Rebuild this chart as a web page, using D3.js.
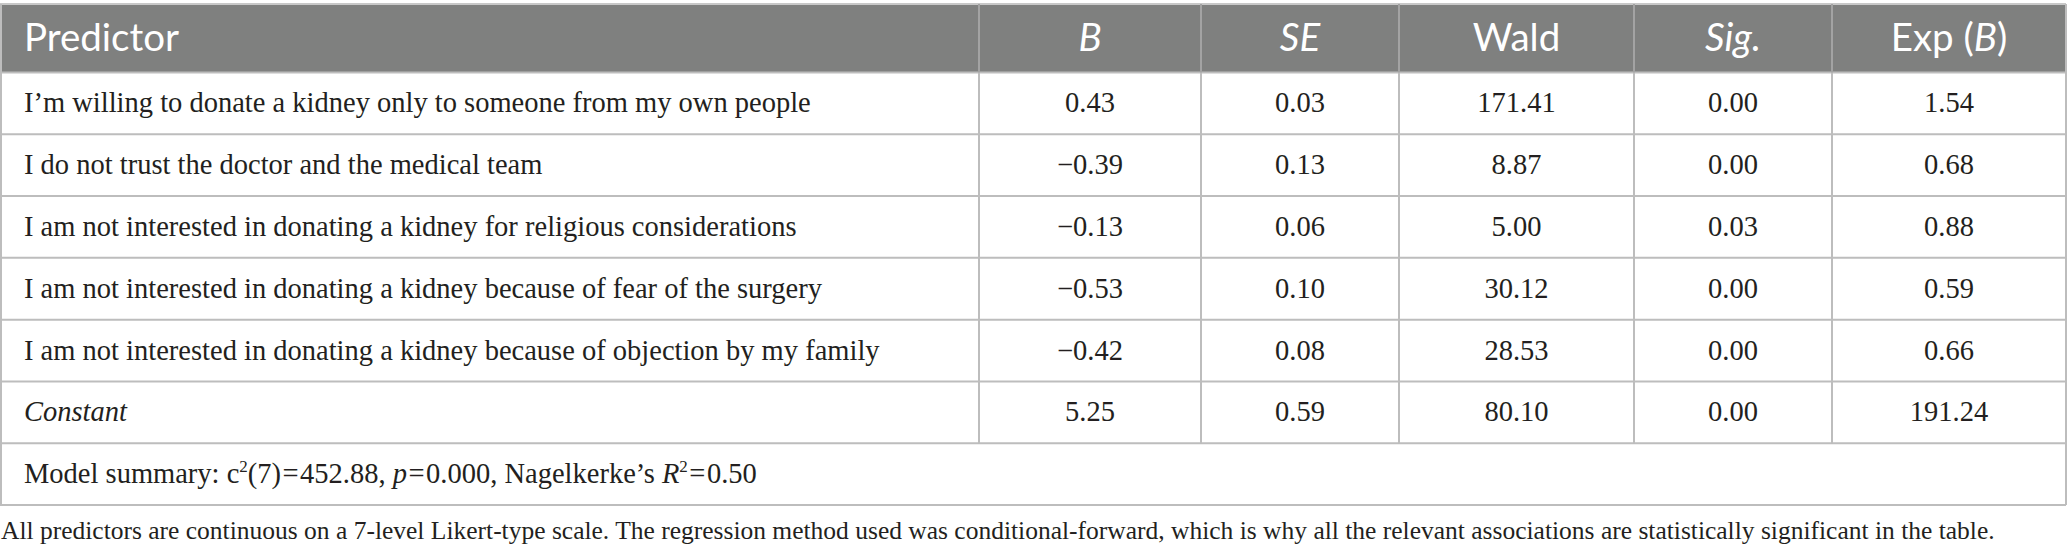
<!DOCTYPE html>
<html><head><meta charset="utf-8">
<script src="https://cdn.jsdelivr.net/npm/d3@7"></script>
<style>html,body{margin:0;padding:0;background:#fff;}</style>
</head><body>
<svg id="c" width="2067" height="557"></svg>
<script>
// ---- data ----
const headers = ["Predictor", "B", "SE", "Wald", "Sig.", "Exp (B)"];
const predictors = [
  "I\u2019m willing to donate a kidney only to someone from my own people",
  "I do not trust the doctor and the medical team",
  "I am not interested in donating a kidney for religious considerations",
  "I am not interested in donating a kidney because of fear of the surgery",
  "I am not interested in donating a kidney because of objection by my family",
  "Constant"
];
const B    = ["0.43", "\u22120.39", "\u22120.13", "\u22120.53", "\u22120.42", "5.25"];
const SE   = ["0.03", "0.13", "0.06", "0.10", "0.08", "0.59"];
const Wald = ["171.41", "8.87", "5.00", "30.12", "28.53", "80.10"];
const Sig  = ["0.00", "0.00", "0.03", "0.00", "0.00", "0.00"];
const ExpB = ["1.54", "0.68", "0.88", "0.59", "0.66", "191.24"];
const footnote = "All predictors are continuous on a 7-level Likert-type scale. The regression method used was conditional-forward, which is why all the relevant associations are statistically significant in the table.";

// ---- layout ----
const colEdges = [0, 979, 1201, 1399, 1634, 1832, 2066];
const rowKeys = ["header"].concat(predictors.map((d,i)=>"r"+i)).concat(["summary"]);
const yTop = 4, yBottom = 505;
const serif = "'Liberation Serif', 'Times New Roman', serif";
const sans = "Lato, 'Noto Sans', sans-serif";
const gridCol = "#bdbdbd";

const svg = d3.select("#c");
const rowH = (yBottom - 72.5) / 7;
const y = d3.scaleOrdinal()
  .domain(rowKeys)
  .range([yTop].concat(d3.range(7).map(i => 72.5 + i * rowH)));
const h = k => k === "header" ? 72.5 - yTop : rowH;
const x = d3.scaleOrdinal().domain(d3.range(6)).range(colEdges.slice(0, 6));
const w = i => colEdges[i + 1] - colEdges[i];

// header background
svg.append("rect").attr("x", 0).attr("y", y("header")).attr("width", colEdges[6]).attr("height", h("header")).attr("fill", "#7f807f");

const cols = [predictors, B, SE, Wald, Sig, ExpB];
const bodyRows = predictors.map((p, i) => ({key: "r" + i, cells: cols.map(c => c[i])}));

// horizontal grid lines
svg.selectAll("line.h").data(rowKeys).enter().append("line")
  .attr("x1", 0).attr("x2", colEdges[6])
  .attr("y1", d => y(d) + h(d)).attr("y2", d => y(d) + h(d))
  .attr("stroke", gridCol).attr("stroke-width", 2);
svg.append("line").attr("x1",0).attr("x2",colEdges[6]).attr("y1",yTop).attr("y2",yTop).attr("stroke","#c8c8c8").attr("stroke-width",2);
[1, colEdges[6]].forEach(xx => svg.append("line").attr("x1", xx).attr("x2", xx).attr("y1", yTop).attr("y2", yBottom).attr("stroke", gridCol).attr("stroke-width", 2));
svg.selectAll("line.v").data(colEdges.slice(1, 6)).enter().append("line")
  .attr("x1", d => d).attr("x2", d => d)
  .attr("y1", yTop).attr("y2", y("summary"))
  .attr("stroke", gridCol).attr("stroke-width", 2);
svg.selectAll("line.vh").data(colEdges.slice(1, 6)).enter().append("line")
  .attr("x1", d => d).attr("x2", d => d)
  .attr("y1", yTop).attr("y2", 72.5)
  .attr("stroke", "#a3a3a3").attr("stroke-width", 2);

// header text
const hdr = svg.append("g");
headers.forEach((t, i) => {
  const tx = hdr.append("text")
    .attr("x", i === 0 ? 24 : x(i) + w(i) / 2)
    .attr("y", y("header") + h("header") / 2 + 13)
    .attr("text-anchor", i === 0 ? "start" : "middle")
    .attr("fill", "#fff").attr("font-family", sans).attr("font-size", 38.5);
  if (t === "Exp (B)") {
    tx.append("tspan").text("Exp (");
    tx.append("tspan").attr("font-style", "italic").text("B");
    tx.append("tspan").text(")");
  } else {
    tx.text(t).attr("font-style", i === 0 || t === "Wald" ? "normal" : "italic");
  }
});

// body text
bodyRows.forEach(r => {
  const cy = y(r.key) + rowH / 2 + 9;
  r.cells.forEach((c, i) => {
    svg.append("text")
      .attr("x", i === 0 ? 24 : x(i) + w(i) / 2)
      .attr("y", cy)
      .attr("text-anchor", i === 0 ? "start" : "middle")
      .attr("font-family", serif).attr("font-size", 28.5).attr("fill", "#231f20")
      .attr("font-style", c === "Constant" ? "italic" : "normal")
      .text(c);
  });
});

// model summary
const baseY = y("summary") + rowH / 2 + 9;
const ms = svg.append("text").attr("x", 24).attr("y", baseY)
  .attr("font-family", serif).attr("font-size", 28.5).attr("fill", "#231f20");
const sup = () => ms.append("tspan").attr("font-size", 17).attr("y", baseY - 11).text("2");
const eq = (after) => {
  ms.append("tspan").attr("dx", 1.5).attr("y", baseY).text("=");
  ms.append("tspan").attr("dx", 1.5).attr("y", baseY).text(after);
};
ms.append("tspan").text("Model summary: c");
sup();
ms.append("tspan").attr("y", baseY).text("(7)");
eq("452.88, ");
ms.append("tspan").attr("font-style", "italic").text("p");
eq("0.000, Nagelkerke\u2019s ");
ms.append("tspan").attr("font-style", "italic").text("R");
sup();
eq("0.50");

// footnote
svg.append("text").attr("x", 1).attr("y", 539)
  .attr("font-family", serif).attr("font-size", 25.5).attr("fill", "#231f20")
  .text(footnote);
</script>
</body></html>
